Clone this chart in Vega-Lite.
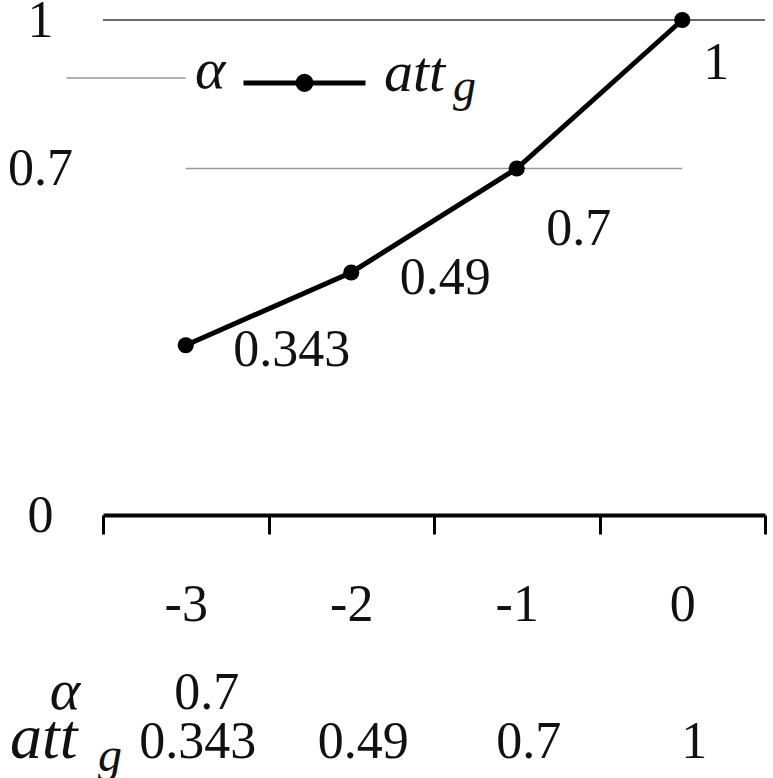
{
  "$schema": "https://vega.github.io/schema/vega-lite/v6.json",
  "width": 662,
  "height": 495,
  "autosize": {"type": "none"},
  "padding": {"left": 103, "top": 20, "right": 8, "bottom": 263},
  "background": "white",
  "config": {
    "font": "Liberation Serif",
    "view": {"stroke": null},
    "text": {"font": "Liberation Serif", "fontSize": 52, "color": "#111111"}
  },
  "datasets": {
    "series": [
      {"x": -3, "att": 0.343, "alpha": 0.7},
      {"x": -2, "att": 0.49},
      {"x": -1, "att": 0.7},
      {"x": 0, "att": 1}
    ],
    "gridlines": [
      {"kind": "major", "y": 1, "from": -3.5, "to": 0.5},
      {"kind": "minor", "y": 0.883, "from": -3.72, "to": -3.0},
      {"kind": "minor", "y": 0.7, "from": -3.0, "to": 0.0}
    ]
  },
  "layer": [
    {
      "data": {"name": "gridlines"},
      "transform": [{"filter": "datum.kind === 'major'"}],
      "mark": {"type": "rule", "color": "#6a6a6a", "strokeWidth": 2},
      "encoding": {
        "x": {
          "field": "from", "type": "quantitative",
          "scale": {"domain": [-3.5, 0.5], "nice": false, "zero": false},
          "axis": {
            "values": [-3.5, -3, -2.5, -2, -1.5, -1, -0.5, 0, 0.5],
            "title": null, "grid": false,
            "domainColor": "black", "domainWidth": 4,
            "tickColor": "black", "tickWidth": 3, "tickSize": 19,
            "tickOpacity": {"condition": {"test": "datum.value % 1 === 0", "value": 0}, "value": 1},
            "labelExpr": "datum.value % 1 === 0 ? toString(datum.value) : ''",
            "labelFont": "Liberation Serif", "labelFontSize": 52, "labelColor": "#111111",
            "labelPadding": 70, "labelBaseline": "middle", "labelOverlap": false, "labelFlush": false
          }
        },
        "x2": {"field": "to"},
        "y": {
          "field": "y", "type": "quantitative",
          "scale": {"domain": [0, 1], "nice": false, "zero": false},
          "axis": {
            "values": [0, 0.7, 1], "title": null, "grid": false, "domain": false,
            "ticks": false, "tickSize": 0,
            "labelAlign": "center", "labelBaseline": "middle", "labelPadding": 63,
            "labelFont": "Liberation Serif", "labelFontSize": 52, "labelColor": "#111111",
            "labelExpr": "toString(datum.value)", "labelOverlap": false, "labelFlush": false
          }
        }
      }
    },
    {
      "data": {"name": "gridlines"},
      "transform": [{"filter": "datum.kind === 'minor'"}],
      "mark": {"type": "rule", "color": "#9a9a9a", "strokeWidth": 1.5},
      "encoding": {
        "x": {"field": "from", "type": "quantitative", "scale": {"domain": [-3.5, 0.5], "nice": false, "zero": false}},
        "x2": {"field": "to"},
        "y": {"field": "y", "type": "quantitative", "scale": {"domain": [0, 1], "nice": false, "zero": false}}
      }
    },
    {
      "data": {"name": "series"},
      "mark": {"type": "line", "strokeWidth": 5},
      "encoding": {
        "x": {"field": "x", "type": "quantitative", "scale": {"domain": [-3.5, 0.5], "nice": false, "zero": false}},
        "y": {"field": "att", "type": "quantitative", "scale": {"domain": [0, 1], "nice": false, "zero": false}},
        "color": {
          "datum": "att", "type": "nominal",
          "scale": {"range": ["black"]},
          "legend": {
            "orient": "none", "legendX": 92, "legendY": -10, "padding": 0,
            "title": ["", "α"], "titleOrient": "left", "titleAnchor": "middle", "titleBaseline": "middle",
            "titleLineHeight": 30,
            "titleFont": "Liberation Serif", "titleFontSize": 58, "titleFontStyle": "italic", "titleFontWeight": "normal",
            "titleColor": "#111111", "titlePadding": 15,
            "symbolType": "M-1,0.154H1M-0.041,0.154A0.041,0.041,0,1,1,0.041,0.154A0.041,0.041,0,1,1,-0.041,0.154M-0.107,0.154A0.107,0.107,0,1,1,0.107,0.154A0.107,0.107,0,1,1,-0.107,0.154",
            "symbolSize": 14884, "symbolStrokeWidth": 5, "symbolStrokeColor": "black", "symbolFillColor": "black",
            "labelFont": "Liberation Serif", "labelFontSize": 58, "labelFontStyle": "italic", "labelColor": "#111111",
            "labelOffset": 16, "labelLimit": 400, "labelBaseline": "middle"
          }
        }
      }
    },
    {
      "data": {"name": "series"},
      "mark": {"type": "point", "filled": true, "size": 260, "opacity": 1, "color": "black"},
      "encoding": {
        "x": {"field": "x", "type": "quantitative", "scale": {"domain": [-3.5, 0.5], "nice": false, "zero": false}},
        "y": {"field": "att", "type": "quantitative", "scale": {"domain": [0, 1], "nice": false, "zero": false}}
      }
    },
    {
      "data": {"name": "series"},
      "transform": [{"filter": "datum.x === 0"}],
      "mark": {"type": "text", "align": "center", "baseline": "middle", "dx": 34, "dy": 43},
      "encoding": {
        "x": {"field": "x", "type": "quantitative", "scale": {"domain": [-3.5, 0.5], "nice": false, "zero": false}},
        "y": {"field": "att", "type": "quantitative", "scale": {"domain": [0, 1], "nice": false, "zero": false}},
        "text": {"field": "att", "type": "nominal"}
      }
    },
    {
      "data": {"name": "series"},
      "transform": [{"filter": "datum.x === -1"}],
      "mark": {"type": "text", "align": "center", "baseline": "middle", "dx": 62, "dy": 60},
      "encoding": {
        "x": {"field": "x", "type": "quantitative", "scale": {"domain": [-3.5, 0.5], "nice": false, "zero": false}},
        "y": {"field": "att", "type": "quantitative", "scale": {"domain": [0, 1], "nice": false, "zero": false}},
        "text": {"field": "att", "type": "nominal"}
      }
    },
    {
      "data": {"name": "series"},
      "transform": [{"filter": "datum.x === -2"}],
      "mark": {"type": "text", "align": "center", "baseline": "middle", "dx": 94, "dy": 6},
      "encoding": {
        "x": {"field": "x", "type": "quantitative", "scale": {"domain": [-3.5, 0.5], "nice": false, "zero": false}},
        "y": {"field": "att", "type": "quantitative", "scale": {"domain": [0, 1], "nice": false, "zero": false}},
        "text": {"field": "att", "type": "nominal"}
      }
    },
    {
      "data": {"name": "series"},
      "transform": [{"filter": "datum.x === -3"}],
      "mark": {"type": "text", "align": "center", "baseline": "middle", "dx": 106, "dy": 5},
      "encoding": {
        "x": {"field": "x", "type": "quantitative", "scale": {"domain": [-3.5, 0.5], "nice": false, "zero": false}},
        "y": {"field": "att", "type": "quantitative", "scale": {"domain": [0, 1], "nice": false, "zero": false}},
        "text": {"field": "att", "type": "nominal"}
      }
    },
    {
      "data": {"name": "series"},
      "transform": [{"filter": "isValid(datum.alpha)"}],
      "mark": {"type": "text", "align": "center", "baseline": "alphabetic", "dx": 21, "dy": 194},
      "encoding": {
        "x": {"field": "x", "type": "quantitative", "scale": {"domain": [-3.5, 0.5], "nice": false, "zero": false}},
        "y": {"datum": 0, "type": "quantitative", "scale": {"domain": [0, 1], "nice": false, "zero": false}},
        "text": {"field": "alpha", "type": "nominal"}
      }
    },
    {
      "data": {"name": "series"},
      "mark": {"type": "text", "align": "center", "baseline": "alphabetic", "dx": 12, "dy": 243},
      "encoding": {
        "x": {"field": "x", "type": "quantitative", "scale": {"domain": [-3.5, 0.5], "nice": false, "zero": false}},
        "y": {"datum": 0, "type": "quantitative", "scale": {"domain": [0, 1], "nice": false, "zero": false}},
        "text": {"field": "att", "type": "nominal"}
      }
    },
    {
      "data": {"values": [{"h": "α"}]},
      "mark": {"type": "text", "align": "center", "baseline": "alphabetic", "fontStyle": "italic", "fontSize": 58, "dx": -38, "dy": 194},
      "encoding": {
        "x": {"datum": -3.5, "type": "quantitative", "scale": {"domain": [-3.5, 0.5], "nice": false, "zero": false}},
        "y": {"datum": 0, "type": "quantitative", "scale": {"domain": [0, 1], "nice": false, "zero": false}},
        "text": {"field": "h", "type": "nominal"}
      }
    },
    {
      "data": {"values": [{"h": "att", "s": "g"}]},
      "mark": {"type": "text", "align": "left", "baseline": "alphabetic", "fontStyle": "italic", "fontSize": 64, "dx": -93, "dy": 243},
      "encoding": {
        "x": {"datum": -3.5, "type": "quantitative", "scale": {"domain": [-3.5, 0.5], "nice": false, "zero": false}},
        "y": {"datum": 0, "type": "quantitative", "scale": {"domain": [0, 1], "nice": false, "zero": false}},
        "text": {"field": "h", "type": "nominal"}
      }
    },
    {
      "data": {"values": [{"h": "att", "s": "g"}]},
      "mark": {"type": "text", "align": "left", "baseline": "alphabetic", "fontStyle": "italic", "fontSize": 48, "dx": -5, "dy": 256},
      "encoding": {
        "x": {"datum": -3.5, "type": "quantitative", "scale": {"domain": [-3.5, 0.5], "nice": false, "zero": false}},
        "y": {"datum": 0, "type": "quantitative", "scale": {"domain": [0, 1], "nice": false, "zero": false}},
        "text": {"field": "s", "type": "nominal"}
      }
    },
    {
      "data": {"values": [{"h": "att", "s": "g"}]},
      "mark": {"type": "text", "align": "left", "baseline": "alphabetic", "fontStyle": "italic", "fontSize": 46, "dx": 350, "dy": 81},
      "encoding": {
        "x": {"datum": -3.5, "type": "quantitative", "scale": {"domain": [-3.5, 0.5], "nice": false, "zero": false}},
        "y": {"datum": 1, "type": "quantitative", "scale": {"domain": [0, 1], "nice": false, "zero": false}},
        "text": {"field": "s", "type": "nominal"}
      }
    }
  ]
}
